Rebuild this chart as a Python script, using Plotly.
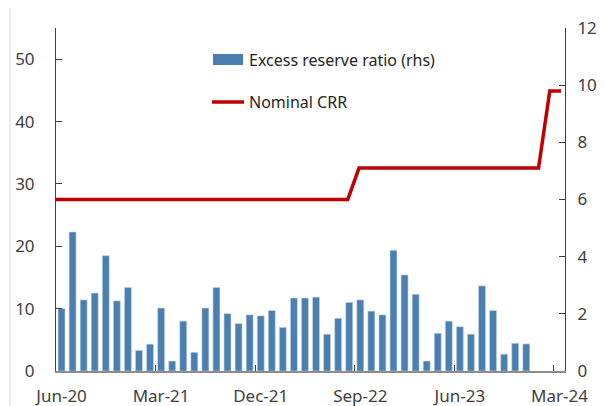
import plotly.graph_objects as go

months = ["Jun-20","Jul-20","Aug-20","Sep-20","Oct-20","Nov-20","Dec-20","Jan-21","Feb-21","Mar-21",
          "Apr-21","May-21","Jun-21","Jul-21","Aug-21","Sep-21","Oct-21","Nov-21","Dec-21","Jan-22",
          "Feb-22","Mar-22","Apr-22","May-22","Jun-22","Jul-22","Aug-22","Sep-22","Oct-22","Nov-22",
          "Dec-22","Jan-23","Feb-23","Mar-23","Apr-23","May-23","Jun-23","Jul-23","Aug-23","Sep-23",
          "Oct-23","Nov-23","Dec-23","Jan-24","Feb-24","Mar-24"]

excess_reserve = [10.0, 22.3, 11.4, 12.5, 18.5, 11.25, 13.4, 3.3, 4.3, 10.1,
                  1.6, 8.0, 3.0, 10.1, 13.4, 9.2, 7.6, 9.0, 8.85, 9.7,
                  7.0, 11.7, 11.7, 11.85, 5.9, 8.45, 11.0, 11.4, 9.6, 9.0,
                  19.35, 15.4, 12.3, 1.6, 6.05, 8.0, 7.1, 5.9, 13.65, 9.7,
                  2.7, 4.45, 4.35, None, None, None]

nominal_crr = [6.0] * 27 + [7.1] * 17 + [9.8] * 2

tick_labels = ["Jun-20", "Mar-21", "Dec-21", "Sep-22", "Jun-23", "Mar-24"]

font_family = "Noto Sans"
tick_color = "#404040"
tick_size = 17

fig = go.Figure()
fig.add_trace(go.Bar(x=months, y=excess_reserve, name="Excess reserve ratio (rhs)",
                     marker=dict(color="#4a7fb0", line=dict(color="#c9d9ea", width=0.6)),
                     xaxis="x", yaxis="y", showlegend=False))
fig.add_trace(go.Scatter(x=months, y=nominal_crr, name="Nominal CRR", mode="lines",
                         line=dict(color="#c00000", width=3.5), xaxis="x2", yaxis="y2",
                         showlegend=False))

# page has an 8px body margin: figure pixel (x, y) shows at (x+8, y+8)
OFF = 8
W, H = 605 - OFF, 406 - OFF
L, T = 56 - OFF, 28 - OFF
R = W - (565 - OFF)
B = H - (371 - OFF)
pw, ph = W - L - R, H - T - B

def px_x(x):
    return (x - OFF - L) / pw

def px_y(y):
    return (H - B - (y - OFF)) / ph

shapes = [
    dict(type="rect", xref="paper", yref="paper", x0=px_x(213), x1=px_x(243), y0=px_y(65), y1=px_y(54),
         fillcolor="#4a7fb0", line=dict(width=0)),
    dict(type="line", xref="paper", yref="paper", x0=px_x(212), x1=px_x(244), y0=px_y(102), y1=px_y(102),
         line=dict(color="#c00000", width=3.5)),
    dict(type="line", xref="paper", yref="paper", x0=px_x(10), x1=px_x(10), y0=px_y(406), y1=px_y(8),
         line=dict(color="#d9d9d9", width=1)),
]
annotations = [
    dict(xref="paper", yref="paper", x=px_x(247), y=px_y(60), text="Excess reserve ratio (rhs)",
         showarrow=False, xanchor="left", yanchor="middle", font=dict(family=font_family, size=16, color="#262626")),
    dict(xref="paper", yref="paper", x=px_x(247), y=px_y(102), text="Nominal CRR",
         showarrow=False, xanchor="left", yanchor="middle", font=dict(family=font_family, size=16, color="#262626")),
]

fig.update_layout(
    width=W, height=H,
    margin=dict(l=L, r=R, t=T, b=B, pad=0),
    paper_bgcolor="white", plot_bgcolor="white",
    bargap=0.37,
    font=dict(family=font_family, size=16, color=tick_color),
    shapes=shapes, annotations=annotations,
    xaxis=dict(type="category", categoryorder="array", categoryarray=months,
               tickmode="array", tickvals=tick_labels, ticktext=tick_labels, tickangle=0,
               tickson="boundaries", ticks="inside", ticklen=6, tickcolor="#404040", tickwidth=1,
               showline=True, linecolor="#8c8c8c", linewidth=2, showgrid=False, zeroline=False,
               range=[-0.5, 45.5], ticklabelstandoff=9, automargin=False,
               tickfont=dict(family=font_family, size=tick_size, color=tick_color)),
    xaxis2=dict(type="category", categoryorder="array", categoryarray=months, overlaying="x",
                range=[0, 45 * 509 / 505], visible=False, automargin=False),
    yaxis=dict(range=[0, 55], tickvals=[0, 10, 20, 30, 40, 50], ticks="inside", ticklen=6,
               tickcolor="#404040", showline=True, linecolor="#404040", linewidth=1,
               showgrid=False, zeroline=False, ticklabelstandoff=17, automargin=False,
               tickfont=dict(family=font_family, size=tick_size, color=tick_color)),
    yaxis2=dict(range=[0, 12], tickvals=[0, 2, 4, 6, 8, 10, 12], overlaying="y", side="right",
                ticks="inside", ticklen=6, tickcolor="#404040", showline=True, linecolor="#404040",
                linewidth=1, showgrid=False, zeroline=False, ticklabelstandoff=8, automargin=False,
                tickfont=dict(family=font_family, size=tick_size, color=tick_color)),
)

fig.write_html("out.html")
